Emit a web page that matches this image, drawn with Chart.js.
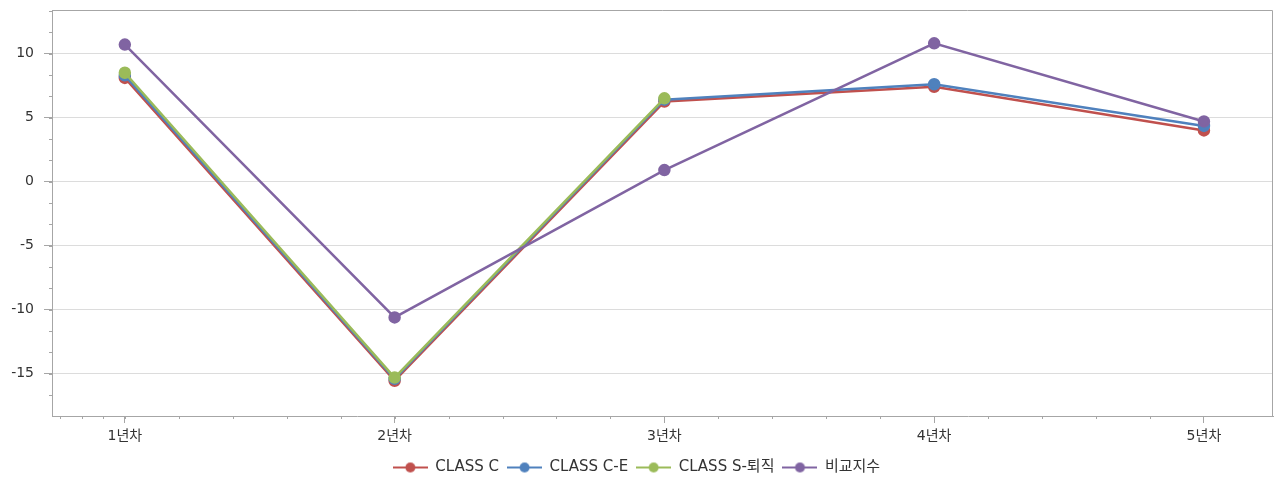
<!DOCTYPE html>
<html>
<head>
<meta charset="utf-8">
<script src="https://cdn.jsdelivr.net/npm/chart.js@4"></script>
<style>
  html, body { margin: 0; padding: 0; background: #fff; overflow: hidden; }
  #wrap { position: absolute; left: 0; top: 0; width: 1277px; height: 485px; }
</style>
</head>
<body>
<div id="wrap"><canvas id="chart"></canvas></div>
<script>
const categories = ['1년차', '2년차', '3년차', '4년차', '5년차'];
const seriesNames = ['CLASS C', 'CLASS C-E', 'CLASS S-퇴직', '비교지수'];
const classC = [8.1, -15.55, 6.25, 7.4, 4.0];
const classCE = [8.3, -15.4, 6.4, 7.6, 4.35];
const classS = [8.5, -15.3, 6.5, null, null];
const compare = [10.7, -10.6, 0.9, 10.8, 4.7];
const yTicks = [-15, -10, -5, 0, 5, 10];

const colors = ['#c0504d', '#4f81bd', '#9bbb59', '#8064a2'];
const FONT = '"DejaVu Sans", "Noto Sans CJK KR", sans-serif';

// values -> {x, y} points, nulls dropped
function toPoints(arr) {
    const out = [];
    arr.forEach((v, i) => { if (v !== null) out.push({ x: i, y: v }); });
    return out;
}

// small legend marker: line with a dot in the middle
function legendMark(color) {
    const c = document.createElement('canvas');
    c.width = 35; c.height = 12;
    const g = c.getContext('2d');
    g.strokeStyle = color;
    g.lineWidth = 2;
    g.beginPath(); g.moveTo(0, 6); g.lineTo(35, 6); g.stroke();
    g.fillStyle = color;
    g.beginPath(); g.arc(17.5, 6, 5, 0, Math.PI * 2); g.fill();
    return c;
}

// box around plot + minor tick marks
const framePlugin = {
    id: 'frame',
    afterDraw(chart) {
        const ctx = chart.ctx;
        const a = chart.chartArea;
        const xs = chart.scales.x, ys = chart.scales.y;
        ctx.save();
        ctx.strokeStyle = '#a6a6a6';
        ctx.lineWidth = 1;
        ctx.beginPath();
        ctx.moveTo(a.left, a.top + 0.5); ctx.lineTo(a.right - 0.5, a.top + 0.5);
        ctx.lineTo(a.right - 0.5, a.bottom);
        ctx.stroke();
        ctx.beginPath();
        // y minor ticks
        for (let v = -15 - 5 / 3; v < ys.max; v += 5 / 3) {
            if (v < ys.min) continue;
            const p = Math.round(ys.getPixelForValue(v)) + 0.5;
            ctx.moveTo(a.left - 3, p); ctx.lineTo(a.left, p);
        }
        // x minor ticks
        for (let v = 0; v <= 4; v += 0.2) {
            const p = Math.round(xs.getPixelForValue(v)) + 0.5;
            ctx.moveTo(p, a.bottom); ctx.lineTo(p, a.bottom + 3);
        }
        for (let v = -0.08; v > xs.min; v -= 0.08) {
            const p = Math.round(xs.getPixelForValue(v)) + 0.5;
            ctx.moveTo(p, a.bottom); ctx.lineTo(p, a.bottom + 3);
        }
        ctx.stroke();
        ctx.restore();
    }
};

const allSeries = [classC, classCE, classS, compare];
const datasets = allSeries.map((arr, i) => ({
    label: seriesNames[i],
    data: toPoints(arr),
    borderColor: colors[i],
    backgroundColor: colors[i],
    pointBackgroundColor: colors[i],
    pointBorderColor: colors[i],
    borderWidth: 2.5,
    pointRadius: 5,
    pointHoverRadius: 5,
    tension: 0,
    order: 3 - i
}));

new Chart(document.getElementById('chart'), {
    type: 'line',
    data: { datasets: datasets },
    plugins: [framePlugin],
    options: {
        responsive: true,
        maintainAspectRatio: false,
        animation: false,
        layout: { autoPadding: false, padding: { top: 10, right: 4, left: 0, bottom: 0 } },
        plugins: {
            tooltip: { enabled: false },
            legend: {
                position: 'bottom',
                labels: {
                    usePointStyle: true,
                    pointStyleWidth: 35,
                    boxHeight: 12,
                    padding: 8,
                    color: '#333',
                    font: { family: FONT, size: 15 },
                    generateLabels(chart) {
                        return chart.data.datasets.map((d, i) => ({
                            text: d.label,
                            pointStyle: legendMark(colors[i]),
                            fillStyle: colors[i],
                            strokeStyle: colors[i],
                            lineWidth: 0,
                            fontColor: '#333',
                            datasetIndex: i,
                            hidden: false
                        }));
                    }
                }
            }
        },
        scales: {
            x: {
                type: 'linear',
                min: -0.27,
                max: 4.256,
                afterBuildTicks(scale) {
                    scale.ticks = categories.map((c, i) => ({ value: i }));
                },
                afterFit(scale) {
                    scale.height = 36;
                    scale.paddingLeft = 0;
                    scale.paddingRight = 0;
                },
                ticks: {
                    autoSkip: false,
                    maxRotation: 0,
                    padding: 5,
                    color: '#333',
                    font: { family: FONT, size: 14 },
                    callback: (v) => categories[v]
                },
                grid: {
                    drawOnChartArea: false,
                    drawTicks: true,
                    tickLength: 7,
                    tickColor: '#a6a6a6'
                },
                border: { color: '#a6a6a6', width: 1 }
            },
            y: {
                min: -18.3,
                max: 13.4,
                afterBuildTicks(scale) {
                    scale.ticks = yTicks.map(v => ({ value: v }));
                },
                afterFit(scale) {
                    scale.width = 52;
                    scale.paddingTop = 0;
                    scale.paddingBottom = 0;
                },
                ticks: {
                    padding: 10,
                    color: '#333',
                    font: { family: FONT, size: 14 }
                },
                grid: {
                    color: '#dcdcdc',
                    drawTicks: true,
                    tickLength: 8,
                    tickColor: '#a6a6a6'
                },
                border: { color: '#a6a6a6', width: 1 }
            }
        }
    }
});
</script>
</body>
</html>
